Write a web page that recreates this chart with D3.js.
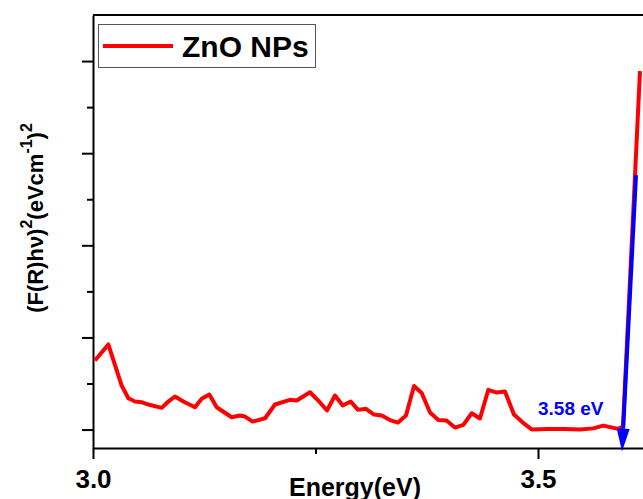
<!DOCTYPE html>
<html><head><meta charset="utf-8">
<script src="https://cdn.jsdelivr.net/npm/d3@7"></script>
<style>body{margin:0;background:#fff}svg{display:block}text{font-family:"Liberation Sans",Arial,sans-serif;font-weight:bold}</style>
</head><body><svg id="c" width="643" height="499"></svg>
<script>
const energy = [3.0022,3.0172,3.0322,3.0397,3.0472,3.0547,3.0621,3.0772,3.0846,3.0921,3.1015,3.1146,3.1221,3.1307,3.1390,3.1558,3.1652,3.1708,3.1794,3.1933,3.2045,3.2213,3.2289,3.2438,3.2531,3.2629,3.2719,3.2806,3.2896,3.2978,3.3067,3.3157,3.3244,3.3337,3.3427,3.3517,3.3607,3.3693,3.3787,3.3880,3.3972,3.4067,3.4161,3.4255,3.4348,3.4442,3.4536,3.4629,3.4730,3.4826,3.4929,3.5112,3.5303,3.5472,3.5621,3.5734,3.5899,3.5955,3.6146];
const signal = [0.750,0.924,0.478,0.340,0.304,0.297,0.272,0.236,0.304,0.359,0.304,0.242,0.334,0.380,0.242,0.134,0.152,0.141,0.087,0.123,0.272,0.323,0.315,0.405,0.315,0.207,0.370,0.261,0.304,0.214,0.225,0.163,0.152,0.103,0.076,0.152,0.473,0.397,0.185,0.103,0.098,0.022,0.051,0.177,0.120,0.432,0.402,0.413,0.163,0.079,0.002,0.005,0.005,0.000,0.013,0.043,0.008,0.033,3.891];
const xMajorTicks = [3.0, 3.5];
const xMinorTicks = [3.25];
const yMajorTicks = [0, 1, 2, 3, 4];
const yMinorTicks = [0.5, 1.5, 2.5, 3.5];
const fitStart = [3.6101, 2.761];
const fitEnd = [3.5944, -0.239];
const bandGapLabel = "3.58 eV";
const seriesName = "ZnO NPs";

const svg = d3.select("#c");
const L = 93, T = 15, B = 448;
const x = d3.scaleLinear().domain([3.0, 3.65]).range([L, L + 0.65 * 890]);
const y = d3.scaleLinear().domain([-0.2, 4.5]).range([B, T]);
const xR = x.range()[1];

// top axis line
svg.append("line").attr("x1", L).attr("x2", xR).attr("y1", T).attr("y2", T)
  .attr("stroke", "#000").attr("stroke-width", 2);

function styleAxis(g){
  g.select(".domain").attr("stroke", "#000").attr("stroke-width", 2);
  g.selectAll(".tick line").attr("stroke", "#000").attr("stroke-width", 2);
}
// y axis
svg.append("g").attr("transform", `translate(${L},0)`)
  .call(d3.axisLeft(y).tickValues(yMajorTicks).tickSize(11).tickSizeOuter(0).tickFormat(""))
  .call(styleAxis);
svg.append("g").attr("transform", `translate(${L},0)`)
  .call(d3.axisLeft(y).tickValues(yMinorTicks).tickSize(6).tickSizeOuter(0).tickFormat(""))
  .call(styleAxis).select(".domain").remove();
// x axis
const gx = svg.append("g").attr("transform", `translate(0,${B})`)
  .call(d3.axisBottom(x).tickValues(xMajorTicks).tickSize(11).tickSizeOuter(0).tickFormat(d3.format(".1f")))
  .call(styleAxis);
gx.selectAll(".tick text").attr("y", 40).attr("dy", 0).attr("fill", "#000")
  .style("font-size", "26px").style("font-family", "'Liberation Sans',Arial,sans-serif").style("font-weight", "bold");
svg.append("g").attr("transform", `translate(0,${B})`)
  .call(d3.axisBottom(x).tickValues(xMinorTicks).tickSize(6).tickSizeOuter(0).tickFormat(""))
  .call(styleAxis).select(".domain").remove();

// x label
svg.append("text").attr("x", 355).attr("y", 496).attr("text-anchor", "middle")
  .style("font-size", "25px").text("Energy(eV)");

// y label
const yl = svg.append("text").attr("transform", "translate(43,218) rotate(-90)")
  .attr("text-anchor", "middle").style("font-size", "22px");
yl.append("tspan").text("(F(R)h\u03bd)");
yl.append("tspan").attr("dy", -11).style("font-size", "16px").text("2");
yl.append("tspan").attr("dy", 11).text("(eVcm");
yl.append("tspan").attr("dy", -11).style("font-size", "16px").text("-1");
yl.append("tspan").attr("dy", 11).text(")");
yl.append("tspan").attr("dy", -11).style("font-size", "16px").text("2");

// data line
const data = energy.map((e, i) => [e, signal[i]]);
svg.append("path").datum(data)
  .attr("d", d3.line().x(d => x(d[0])).y(d => y(d[1])))
  .attr("fill", "none").attr("stroke", "#ff0000").attr("stroke-width", 4).attr("stroke-linejoin", "round");

// fit arrow
const p0 = [x(fitStart[0]), y(fitStart[1])], p1 = [x(fitEnd[0]), y(fitEnd[1])];
const dx = p1[0] - p0[0], dy = p1[1] - p0[1], len = Math.hypot(dx, dy);
const ux = dx / len, uy = dy / len, hl = 23, hw = 6.5;
const base = [p1[0] - ux * hl, p1[1] - uy * hl];
svg.append("line").attr("x1", p0[0]).attr("y1", p0[1]).attr("x2", base[0]).attr("y2", base[1])
  .attr("stroke", "#0000ff").attr("stroke-width", 4);
svg.append("path").attr("d", `M${p1[0]},${p1[1]}L${base[0] - uy * hw},${base[1] + ux * hw}L${base[0] + uy * hw},${base[1] - ux * hw}Z`)
  .attr("fill", "#0000ff");
svg.append("text").attr("x", 538).attr("y", 415).attr("fill", "#0000ff")
  .style("font-size", "19px").text(bandGapLabel);

// legend
svg.append("rect").attr("x", 98.5).attr("y", 24.5).attr("width", 217).attr("height", 43)
  .attr("fill", "#fff").attr("stroke", "#555").attr("stroke-width", 1);
svg.append("line").attr("x1", 103).attr("x2", 173).attr("y1", 46).attr("y2", 46)
  .attr("stroke", "#ff0000").attr("stroke-width", 4);
svg.append("text").attr("x", 182).attr("y", 57).style("font-size", "30px").text(seriesName);
</script></body></html>
